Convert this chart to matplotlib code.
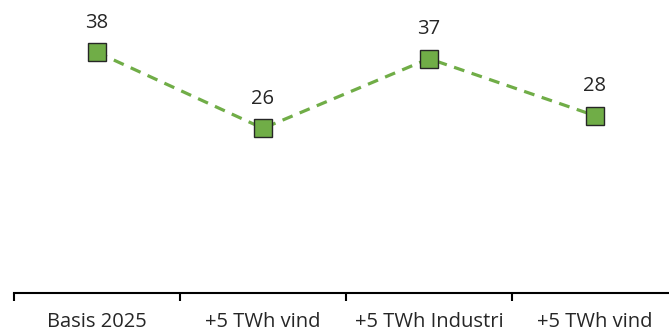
import matplotlib.pyplot as plt
from matplotlib.ticker import FixedLocator

kategorier = ["Basis 2025", "+5 TWh vind", "+5 TWh Industri", "+5 TWh vind"]
verdier = [38, 26, 37, 28]

plt.rcParams['font.family'] = ['Open Sans', 'DejaVu Sans']

fig = plt.figure(figsize=(6.69, 3.35), dpi=100)
# akse strekker seg litt forbi høyre kant, som i originalen
ax = fig.add_axes([14/669, (335-293)/335, 664/669, 285/335])

x = list(range(len(verdier)))
ax.plot(x, verdier, linestyle=(0, (3.4, 2.4)), color='#70AD47', linewidth=2.3,
        marker='s', markersize=13.5, markerfacecolor='#70AD47',
        markeredgecolor='#262626', markeredgewidth=1.0, zorder=3)
for xi, v in zip(x, verdier):
    ax.annotate(str(v), (xi, v), xytext=(0, 14), textcoords='offset points',
                ha='center', va='bottom', fontsize=14.5, color='#262626')

ax.set_xlim(-0.5, len(verdier) - 0.5)
ax.set_ylim(0, 45)
ax.set_yticks([])
for s in ['top', 'right', 'left']:
    ax.spines[s].set_visible(False)
ax.spines['bottom'].set_linewidth(1.5)
ax.spines['bottom'].set_color('black')

ax.xaxis.set_major_locator(FixedLocator([i - 0.5 for i in range(len(verdier) + 1)]))
ax.xaxis.set_minor_locator(FixedLocator(x))
ax.set_xticklabels([])
ax.set_xticklabels(kategorier, minor=True)
ax.tick_params(axis='x', which='major', length=6, width=1.5, color='black')
ax.tick_params(axis='x', which='minor', length=0, pad=14, labelsize=14.5, labelcolor='#262626')

fig.savefig('out.png', dpi=100)
